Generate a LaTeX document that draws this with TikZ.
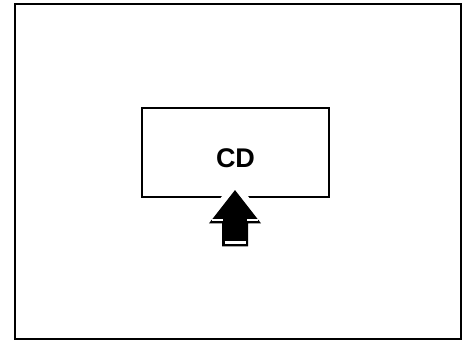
\documentclass[tikz,border=0pt]{standalone}
\usepackage{fontspec}
\setmainfont{Liberation Sans}
\usetikzlibrary{positioning, calc}

\begin{document}
\begin{tikzpicture}[
        x=1pt, y=1pt,
        frame/.style={draw, line width=1.4pt},
        cd_box/.style={draw, line width=1.8pt, minimum width=187pt, minimum height=89pt, inner sep=0pt, text height=31pt, font=\fontsize{27}{30}\selectfont\bfseries},
        halo/.style={draw=white, line width=14pt, line join=round},
        push_arrow/.style={fill=black, draw=black, line width=1pt, line join=miter},
        facet/.style={draw=white, line width=2.6pt}
    ]

    % ========================================================
    % 1. BINGKAI
    % ========================================================
    \useasboundingbox (0,0) rectangle (466,340);
    \node[frame, minimum width=446pt, minimum height=335pt, inner sep=0pt] (panel) at (238,168.5) {};

    % ========================================================
    % 2. KOTAK CD
    % ========================================================
    \node[cd_box] (cd) at (235.5,187.5) {CD};

    % ========================================================
    % 3. PANAH DORONG
    % ========================================================
    \coordinate (tip) at ($(cd.south)+(-0.5,7)$);

    % Celah putih di garis bawah kotak
    \draw[halo] (tip) -- ++(-25,-32) -- ++(12.5,0) -- ++(0,-23)
        -- ++(25,0) -- ++(0,23) -- ++(12.5,0) -- cycle;

    % Badan panah
    \filldraw[push_arrow] (tip) -- ++(-25,-32) -- ++(12.5,0) -- ++(0,-23)
        -- ++(25,0) -- ++(0,23) -- ++(12.5,0) -- cycle;

    % Garis putih (sisi terang)
    \draw[facet] ($(tip)+(-23,-29)$) -- ++(11,0);
    \draw[facet] ($(tip)+(12,-29)$) -- ++(11,0);
    \draw[facet] ($(tip)+(-10.5,-51.5)$) -- ++(21,0);

\end{tikzpicture}
\end{document}
